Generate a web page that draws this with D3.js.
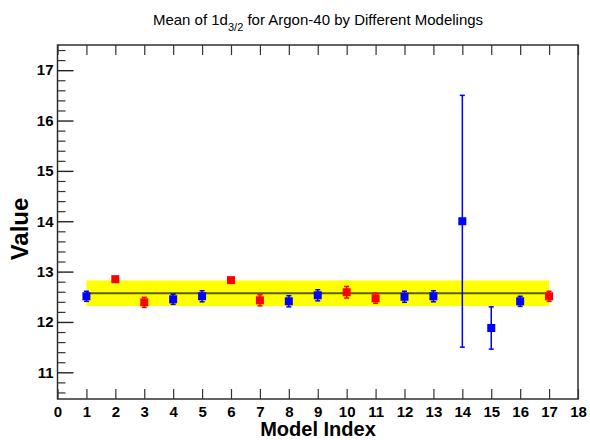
<!DOCTYPE html>
<html>
<head>
<meta charset="utf-8">
<script src="https://cdn.jsdelivr.net/npm/d3@7"></script>
<style>
  html, body { margin: 0; padding: 0; background: #fff; }
  svg { display: block; }
  text { font-family: "Liberation Sans", Arial, Helvetica, sans-serif; }
</style>
</head>
<body>
<div id="chart"></div>
<script>
// ---- data ----
const modelIndex = [1, 2, 3, 4, 5, 6, 7, 8, 9, 10, 11, 12, 13, 14, 15, 16, 17];
const meanValues = [12.51, 12.85, 12.39, 12.45, 12.51, 12.83, 12.43, 12.41, 12.53, 12.59, 12.47, 12.50, 12.51, 14.00, 11.88, 12.41, 12.51];
const meanErrors = [0.10, 0.0, 0.10, 0.10, 0.11, 0.0, 0.11, 0.11, 0.11, 0.115, 0.10, 0.11, 0.11, 2.50, 0.42, 0.10, 0.10];
const pointGroup = ["blue", "red", "red", "blue", "blue", "red", "red", "blue", "blue", "red", "red", "blue", "blue", "blue", "blue", "blue", "red"];
const overallMean = 12.57;
const overallBand = 0.255;
const xTickValues = d3.range(0, 19);
const yMajorTicks = [11, 12, 13, 14, 15, 16, 17];
const titleMain = "Mean of 1d";
const titleSub = "3/2";
const titleRest = " for Argon-40 by Different Modelings";
const xTitle = "Model Index";
const yTitle = "Value";

const colorMap = { blue: "#0000ff", red: "#ff0000" };

const W = 590, H = 440;
const frame = { left: 57.5, right: 578, top: 45, bottom: 399 };

const svg = d3.select("#chart").append("svg").attr("width", W).attr("height", H);

const x = d3.scaleLinear().domain([0, 18]).range([frame.left, frame.right]);
const y = d3.scaleLinear().domain([10.47, 17.5]).range([frame.bottom, frame.top]);

// band
svg.append("rect")
  .attr("x", x(1)).attr("width", x(17) - x(1))
  .attr("y", y(overallMean + overallBand))
  .attr("height", y(overallMean - overallBand) - y(overallMean + overallBand))
  .attr("fill", "#ffff00");
svg.append("line")
  .attr("x1", x(1)).attr("x2", x(17))
  .attr("y1", y(overallMean)).attr("y2", y(overallMean))
  .attr("stroke", "#5c5c00").attr("stroke-width", 2);

// frame
svg.append("rect")
  .attr("x", frame.left).attr("y", frame.top)
  .attr("width", frame.right - frame.left).attr("height", frame.bottom - frame.top)
  .attr("fill", "none").attr("stroke", "#222").attr("stroke-width", 1.4);

// x axis bottom
const xAxis = d3.axisBottom(x).tickValues(xTickValues).tickSize(-10).tickPadding(7).tickFormat(d3.format("d"));
const gx = svg.append("g").attr("transform", `translate(0,${frame.bottom})`).call(xAxis);
gx.select(".domain").remove();
gx.selectAll(".tick line").attr("stroke", "#333").attr("stroke-width", 1.2);
gx.selectAll(".tick text").attr("font-size", 15).attr("font-weight", "bold").attr("fill", "#000")
  .attr("font-family", "Liberation Sans, Arial, sans-serif");

// x axis top ticks
const xAxisTop = d3.axisTop(x).tickValues(xTickValues).tickSize(-10).tickFormat("");
const gxt = svg.append("g").attr("transform", `translate(0,${frame.top})`).call(xAxisTop);
gxt.select(".domain").remove();
gxt.selectAll(".tick line").attr("stroke", "#333").attr("stroke-width", 1.2);

// y axis minor
const yMinor = d3.range(10.6, 17.45, 0.2).filter(v => Math.abs(v - Math.round(v)) > 0.05);
const gym = svg.append("g").attr("transform", `translate(${frame.left},0)`)
  .call(d3.axisLeft(y).tickValues(yMinor).tickSize(-8).tickFormat(""));
gym.select(".domain").remove();
gym.selectAll(".tick line").attr("stroke", "#333").attr("stroke-width", 1.2);

// y axis major
const gy = svg.append("g").attr("transform", `translate(${frame.left},0)`)
  .call(d3.axisLeft(y).tickValues(yMajorTicks).tickSize(-16).tickPadding(4).tickFormat(d3.format("d")));
gy.select(".domain").remove();
gy.selectAll(".tick line").attr("stroke", "#222").attr("stroke-width", 1.4);
gy.selectAll(".tick text").attr("font-size", 15).attr("font-weight", "bold").attr("fill", "#000")
  .attr("x", -4).attr("font-family", "Liberation Sans, Arial, sans-serif");

// error bars & markers
const pts = modelIndex.map((m, i) => ({ m, v: meanValues[i], e: meanErrors[i], c: colorMap[pointGroup[i]] }));
const eb = svg.append("g");
pts.filter(p => p.e > 0).forEach(p => {
  const g = eb.append("g");
  g.append("line").attr("x1", x(p.m)).attr("x2", x(p.m)).attr("y1", y(p.v + p.e)).attr("y2", y(p.v - p.e))
    .attr("stroke", p.c).attr("stroke-width", 1.5);
  [p.v + p.e, p.v - p.e].forEach(val => {
    g.append("line").attr("x1", x(p.m) - 2.5).attr("x2", x(p.m) + 2.5).attr("y1", y(val)).attr("y2", y(val))
      .attr("stroke", p.c).attr("stroke-width", 1.5);
  });
});
svg.append("g").selectAll("rect.pt").data(pts).join("rect")
  .attr("class", "pt")
  .attr("x", d => x(d.m) - 4).attr("y", d => y(d.v) - 4)
  .attr("width", 8).attr("height", 8)
  .attr("fill", d => d.c);

// titles
const t = svg.append("text").attr("x", 318).attr("y", 25).attr("text-anchor", "middle")
  .attr("font-size", 15).attr("fill", "#000");
t.append("tspan").text(titleMain);
t.append("tspan").attr("font-size", 11).attr("dy", 6).text(titleSub);
t.append("tspan").attr("dy", -6).text(titleRest);

svg.append("text").attr("x", 318).attr("y", 436).attr("text-anchor", "middle")
  .attr("font-size", 20).attr("font-weight", "bold").text(xTitle);

svg.append("text").attr("transform", `translate(28,229) rotate(-90)`).attr("text-anchor", "middle")
  .attr("font-size", 24).attr("font-weight", "bold").text(yTitle);
</script>
</body>
</html>
